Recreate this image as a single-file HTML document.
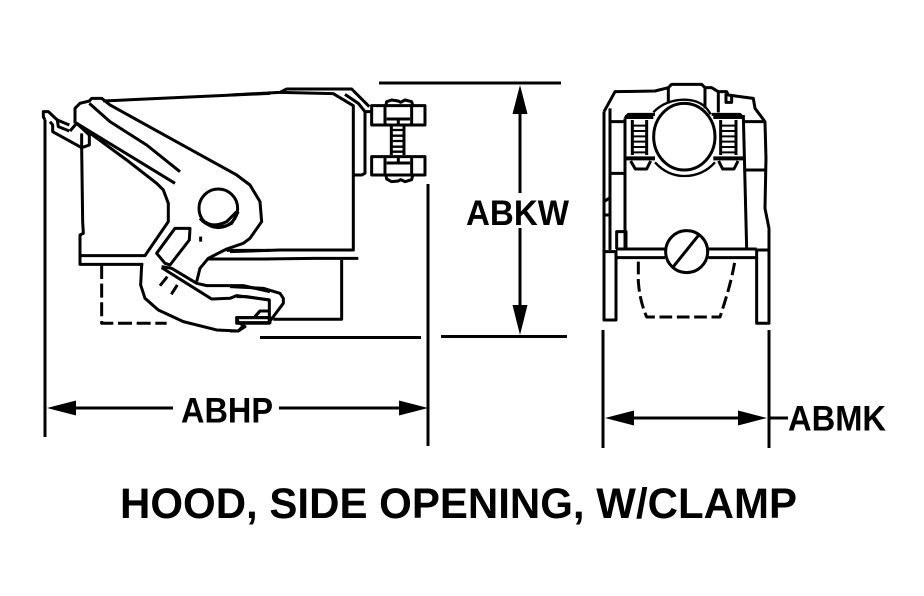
<!DOCTYPE html>
<html><head><meta charset="utf-8"><style>
html,body{margin:0;padding:0;background:#fff;width:924px;height:596px;overflow:hidden}
svg{display:block}
text{font-family:"Liberation Sans",sans-serif;font-weight:bold;fill:#000}
.l{fill:none;stroke:#000;stroke-width:9;stroke-linejoin:round}
</style></head><body>
<svg width="924" height="596" viewBox="0 0 924 596" xmlns="http://www.w3.org/2000/svg">
<rect width="924" height="596" fill="#fff"/>
<!-- dimension lines -->
<g fill="none" stroke="#000" stroke-width="3">
<path d="M45,120V437M428,184V446M379,83H561M260,337.500H421M441,336.500H567M520,100V193M520,228V320M60,408H173M279,408H415M603,330V448M769,330V448M615,418H755M769,418H788"/>
</g>
<g fill="#000">
<path d="M520,85L512.500,114H527.500ZM520,335L512.500,305H527.500ZM47,408L76,400.500V415.500ZM428,408L399,400.500V415.500ZM605,418L634,410.500V425.500ZM767,418L738,410.500V425.500Z"/>
</g>
<!-- left drawing -->
<g transform="translate(30,75) scale(.3333)" class="l">
<path d="M45,135L40,125V110H55L82,135L118,150"/>
<path d="M60,140L68,150V170L155,218L178,210V180L140,145L120,168"/>
<path d="M82,135L85,155L118,168M155,175V218"/>
<path d="M135,145V100L150,85L178,78L185,70H215L240,90L620,300L660,330L690,380L695,440L660,490L640,505L590,522L535,550L510,580L500,620"/>
<path d="M220,78L720,55"/>
<path d="M155,218L158,440L160,475L150,480V568H340"/>
<path d="M150,542H345L415,440V385L400,345L380,325L290,255L140,145L435,325"/>
<path d="M178,85L240,140L350,210L450,290"/>
<path d="M335,570L332,630L345,670L385,705L460,740L560,765L625,768L640,752"/>
<path d="M395,575L425,580L500,625L530,632H640L720,650"/>
<path d="M395,578L470,625L545,672L600,670L620,662L720,675"/>
<path d="M435,460H480L478,495L420,570L405,565L380,535Z"/>
<ellipse cx="565" cy="400" rx="58" ry="58"/>
<path d="M510,430C530,455,570,465,605,445L625,410"/>
<path d="M525,440C545,455,570,450,590,440L620,410"/>
<path d="M512,485V500M412,605L390,632M442,630L424,658"/>
<path d="M215,570V745H410" stroke-dasharray="42,14"/>
<path d="M535,552H720M590,526H720"/>
<path d="M620,728H720V743H625Z"/>
<path d="M675,725L690,708H720"/>
</g>
<g transform="translate(230,75) scale(.3333)" class="l">
<path d="M0,60L150,52L170,42H365L418,95"/>
<path d="M150,52L310,56L370,92V525H150L0,530"/>
<path d="M345,58L385,85L405,110H425"/>
<path d="M405,110V295L395,300H372"/>
<rect x="425" y="92" width="160" height="58"/>
<path d="M465,92V150M545,92V150M468,90L470,80L485,75L505,78L512,82L525,75L545,80L548,90M470,132H540M505,132V150"/>
<rect x="425" y="245" width="160" height="55"/>
<path d="M465,245V300M545,245V300M468,302L470,312L485,320L505,318L512,314L525,320L545,314L548,302M470,264H540M505,245V264"/>
<path d="M484,150V240M522,150V240"/>
<path d="M484,165H522M484,182H522M484,198H522M484,215H522M484,230H522" stroke-width="7"/>
<path d="M0,552H100L250,550H385"/>
<path d="M335,555V733H130"/>
<path d="M0,635L100,640L150,655L160,670V685L130,725L115,745"/>
<path d="M20,665H50L118,675V745"/>
<rect x="20" y="728" width="98" height="17"/>
<path d="M75,725L90,708H118M30,745L45,755L25,768H0"/>
</g>
<!-- right drawing -->
<g transform="translate(590,75) scale(.3333)" class="l">
<path d="M42,110V735H78V530H42"/>
<path d="M60,100V525"/>
<path d="M42,110L75,50L195,48L235,38L245,28H335L345,38H365L385,50H410L415,60L450,65L490,70L495,100L525,140L528,250L525,400L537,460V525"/>
<rect x="500" y="525" width="37" height="220"/>
<path d="M78,522H225M355,522H500M78,548H225M355,548H500"/>
<circle cx="290" cy="530" r="63"/>
<path d="M250,575L328,478"/>
<ellipse cx="283" cy="185" rx="92" ry="100"/>
<path d="M190,112C215,85,250,74,283,74C315,74,345,85,362,118M195,262C220,290,250,303,283,303C320,303,350,290,375,262" stroke-width="7"/>
<path d="M235,38V85M345,38V100M385,50V112"/>
<path d="M60,140H105M60,295H105M460,140H525M460,285H525"/>
<path d="M105,130L115,118H195M105,130V520M460,120L470,520M365,118H450L460,130"/>
<path d="M127,135V240M170,135V240M392,135V240M438,135V240"/>
<path d="M127,152H170M127,168H170M127,184H170M127,200H170M127,216H170M127,232H170M392,152H438M392,168H438M392,184H438M392,200H438M392,216H438M392,232H438" stroke-width="6"/>
<path d="M105,126H190M105,250H195M370,126H460M370,250H460" stroke-width="12"/>
<path d="M122,258L136,282H170L182,258M386,258L398,282H432L444,258"/>
<path d="M408,55V82H425V60M42,380L60,368V420H45"/>
<path d="M80,522V470H108V522"/>
<path d="M145,560V620C148,660,155,690,170,726H390C405,680,425,620,436,550" stroke-dasharray="38,14"/>
</g>
<!-- labels -->
<text x="466" y="225" font-size="35" textLength="103" lengthAdjust="spacingAndGlyphs">ABKW</text>
<text x="181" y="422.500" font-size="35" textLength="92" lengthAdjust="spacingAndGlyphs">ABHP</text>
<text x="788" y="430.500" font-size="35" textLength="98" lengthAdjust="spacingAndGlyphs">ABMK</text>
<text x="120" y="518" font-size="43" textLength="677" lengthAdjust="spacingAndGlyphs">HOOD, SIDE OPENING, W/CLAMP</text>
</svg>
</body></html>
